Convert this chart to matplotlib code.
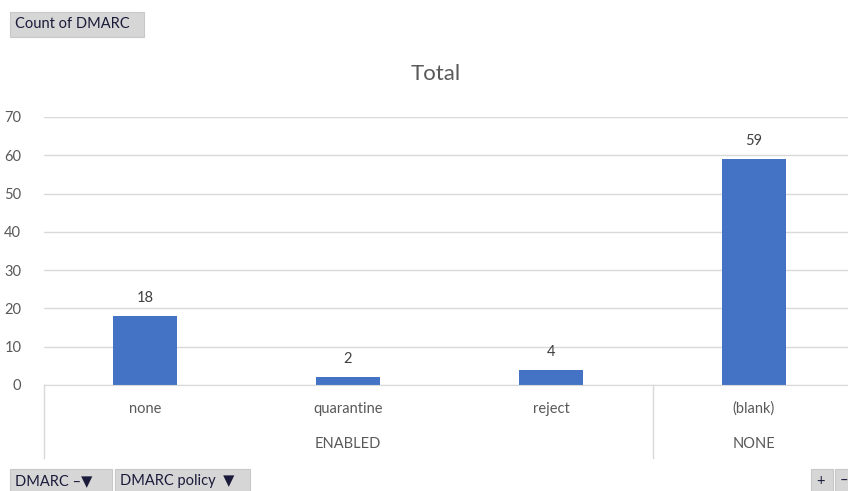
import matplotlib
matplotlib.use("Agg")
import matplotlib.pyplot as plt
from matplotlib.patches import Rectangle

plt.rcParams['font.family'] = ['Lato', 'DejaVu Sans']

categories = ["none", "quarantine", "reject", "(blank)"]
groups = ["ENABLED", "ENABLED", "ENABLED", "NONE"]
counts = [18, 2, 4, 59]
y_ticks = [0, 10, 20, 30, 40, 50, 60, 70]

W, H = 848, 491
fig = plt.figure(figsize=(W / 100, H / 100), dpi=100)

bar_color = "#4472C4"
text_color = "#595959"
grid_color = "#D9D9D9"

# plot area (pixel geometry converted to figure fractions)
left_px, right_px = 43.5, 855.5
top_px, bottom_px = 117, 385
ax = fig.add_axes([left_px / W, 1 - bottom_px / H,
                   (right_px - left_px) / W, (bottom_px - top_px) / H])

x = list(range(len(categories)))
ax.bar(x, counts, width=0.315, color=bar_color, zorder=3)
for xi, v in zip(x, counts):
    ax.annotate(str(v), (xi, v), xytext=(0, 8), textcoords="offset points",
                ha="center", va="bottom", fontsize=10.5, color="#404040")

ax.set_xlim(-0.5, len(categories) - 0.5)
ax.set_ylim(0, 70)
ax.set_yticks(y_ticks)
ax.yaxis.grid(True, color=grid_color, linewidth=1, zorder=0)
ax.tick_params(axis="y", length=0, labelsize=10.5, labelcolor=text_color, pad=16)
ax.set_xticks([])
for s in ["top", "right", "left"]:
    ax.spines[s].set_visible(False)
ax.spines["bottom"].set_color(grid_color)
ax.spines["bottom"].set_zorder(4)

# category labels and group labels below the axis
trans = ax.get_xaxis_transform()
axis_h_px = bottom_px - top_px
def yfrac(px_below):
    return -px_below / axis_h_px

for xi, c in zip(x, categories):
    ax.text(xi, yfrac(24), c, transform=trans, ha="center", va="center",
            fontsize=10.5, color=text_color)

# group spans
spans = []
start = 0
for i in range(1, len(groups) + 1):
    if i == len(groups) or groups[i] != groups[start]:
        spans.append((groups[start], start, i - 1))
        start = i
for name, a, b in spans:
    ax.text((a + b) / 2, yfrac(59), name, transform=trans, ha="center",
            va="center", fontsize=10.5, color=text_color)

# vertical separators between groups
sep_positions = [-0.5] + [b + 0.5 for _, _, b in spans[:-1]]
for sx in sep_positions:
    ax.plot([sx, sx], [0, yfrac(73)], transform=trans, color=grid_color,
            linewidth=1, clip_on=False)

fig.text(436 / W, 1 - 74 / H, "Total", ha="center", va="center",
         fontsize=16, color=text_color)

# pivot field buttons
def button(x0, y0, w, h, label, fs=10.5):
    fig.patches.append(Rectangle((x0 / W, 1 - (y0 + h) / H), w / W, h / H,
                                 transform=fig.transFigure, facecolor="#D6D6D6",
                                 edgecolor="#C8C8C8", linewidth=0.8))
    fig.text((x0 + 5) / W, 1 - (y0 + h / 2) / H, label, ha="left",
             va="center", fontsize=fs, color="#1A1A3A")

button(10, 12, 134, 25, "Count of DMARC")
button(10, 469, 102, 24, "DMARC \u2013\u25BC")
button(115, 469, 135, 24, "DMARC policy  \u25BC")
button(811, 469, 22, 24, "+")
button(835, 469, 22, 24, "\u2013")

fig.savefig("out.png", dpi=100)
